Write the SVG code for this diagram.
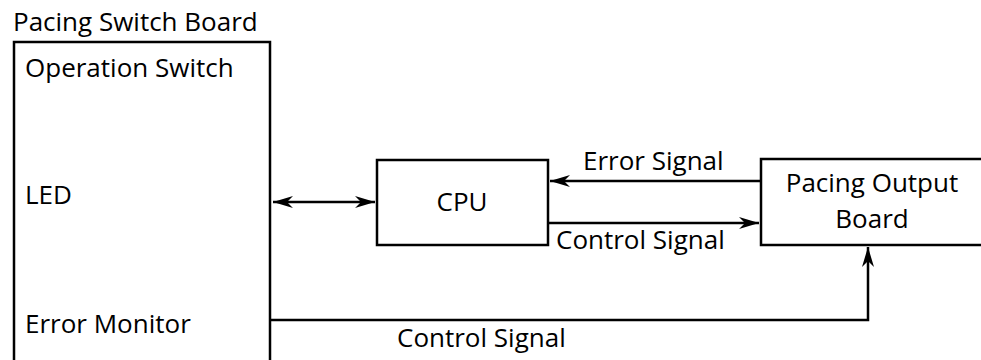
<svg xmlns="http://www.w3.org/2000/svg" width="981" height="360" viewBox="0 0 981 360">
<style>
text{font-family:"Open Sans","Noto Sans","Liberation Sans",sans-serif;font-size:26px;fill:#000}
.box{fill:#fff;stroke:#000;stroke-width:2.5}
.wire{fill:none;stroke:#000;stroke-width:2.5}
</style>
<defs>
<marker id="ah" markerUnits="userSpaceOnUse" markerWidth="22" markerHeight="14" refX="20" refY="7" orient="auto-start-reverse">
<path d="M0,1 L20,7 L0,13 L6,7 Z" fill="#000"/>
</marker>
</defs>
<rect width="981" height="360" fill="#fff"/>
<g id="pacing-switch-board">
<text x="13" y="31">Pacing Switch Board</text>
<rect class="box" x="14" y="42" width="256" height="330"/>
<text x="25" y="77">Operation Switch</text>
<text x="25" y="204">LED</text>
<text x="25" y="333">Error Monitor</text>
</g>
<g id="cpu">
<rect class="box" x="377" y="160" width="171" height="85"/>
<text x="462" y="211" text-anchor="middle">CPU</text>
</g>
<g id="pacing-output-board">
<rect class="box" x="761" y="159" width="240" height="86"/>
<text x="872" y="192" text-anchor="middle">Pacing Output</text>
<text x="872" y="228" text-anchor="middle">Board</text>
</g>
<g id="connectors">
<line class="wire" x1="273" y1="202" x2="375" y2="202" marker-start="url(#ah)" marker-end="url(#ah)"/>
<line class="wire" x1="761" y1="181" x2="550" y2="181" marker-end="url(#ah)"/>
<text x="583" y="170">Error Signal</text>
<line class="wire" x1="548" y1="223" x2="759" y2="223" marker-end="url(#ah)"/>
<text x="556" y="249">Control Signal</text>
<polyline class="wire" points="271,320 868,320 868,247" marker-end="url(#ah)"/>
<text x="397" y="347">Control Signal</text>
</g>
</svg>
